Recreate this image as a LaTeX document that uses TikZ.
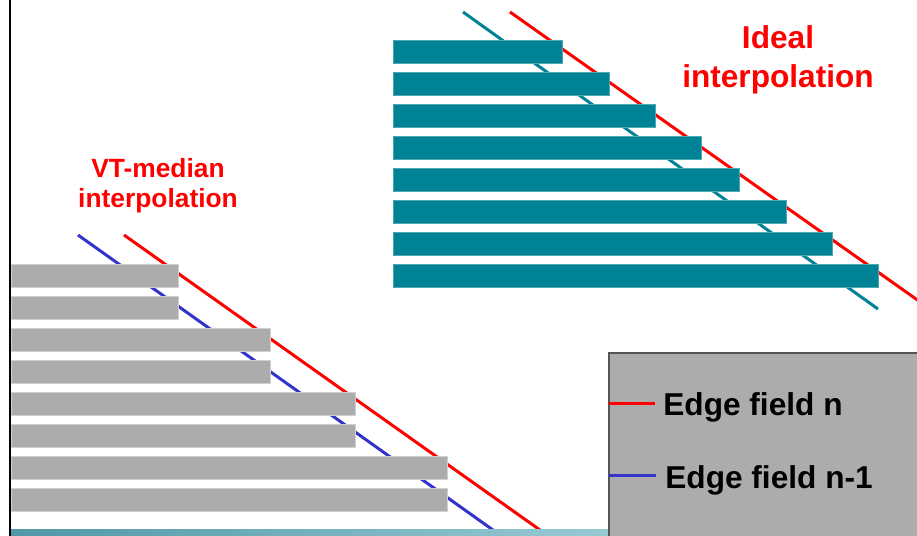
\documentclass[tikz,border=0pt]{standalone}
\usepackage{fontspec}
\setmainfont{Liberation Sans}
\usepackage{tikz}

\definecolor{barteal}{RGB}{0,131,150}
\definecolor{bargrey}{RGB}{172,172,172}
\definecolor{fieldblue}{RGB}{51,51,204}
\definecolor{legendedge}{RGB}{85,85,85}
\definecolor{stripleft}{RGB}{80,152,168}
\definecolor{stripright}{RGB}{152,201,211}

\begin{document}
\begin{tikzpicture}[
		x=0.02cm, y=-0.02cm,
		font=\bfseries,
		fieldbar/.style={
			rectangle,
			anchor=north west,
			inner sep=0pt,
			line width=0.3pt,
			minimum height=0.46cm,
			minimum width=#1*0.02cm
		},
		tealbar/.style={
			fieldbar=#1,
			fill=barteal,
			draw=barteal!70!white
		},
		greybar/.style={
			fieldbar=#1,
			fill=bargrey,
			draw=bargrey!55!white
		},
		fieldline/.style={
			line width=1.7pt
		},
		tag/.style={
			text=red,
			align=center,
			inner sep=0pt
		},
		legendtext/.style={
			anchor=base west,
			inner sep=0pt,
			font=\fontsize{18}{22}\selectfont\bfseries
		}
		]
		\useasboundingbox (0,0) rectangle (917,535);
		
		% the edges go first, the lines are hidden behind the bars
		\draw [fieldline, barteal] (463,12) -- (878,309);
		\draw [fieldline, red] (510,12) -- (950,323);
		\draw [fieldline, fieldblue] (78,235) -- (493,530);
		\draw [fieldline, red] (124,235) -- (540,530);
		
		% ideal interpolation
		\node [tealbar=169] (t1) at (393,40) {};
		\node [tealbar=216] (t2) at (393,72) {};
		\node [tealbar=262] (t3) at (393,104) {};
		\node [tealbar=308] (t4) at (393,136) {};
		\node [tealbar=346] (t5) at (393,168) {};
		\node [tealbar=393] (t6) at (393,200) {};
		\node [tealbar=439] (t7) at (393,232) {};
		\node [tealbar=485] (t8) at (393,264) {};
		
		% vt-median interpolation, lines come in pairs
		\node [greybar=167] (g1) at (11,264) {};
		\node [greybar=167] (g2) at (11,296) {};
		\node [greybar=259] (g3) at (11,328) {};
		\node [greybar=259] (g4) at (11,360) {};
		\node [greybar=344] (g5) at (11,392) {};
		\node [greybar=344] (g6) at (11,424) {};
		\node [greybar=436] (g7) at (11,456) {};
		\node [greybar=436] (g8) at (11,488) {};
		
		\node [tag, font=\fontsize{18}{22}\selectfont\bfseries] (ideal) at (778,60)
		{Ideal\\interpolation};
		\node [tag, font=\fontsize{15}{17}\selectfont\bfseries] (median) at (158,186)
		{VT-median\\interpolation};
		
		% frame
		\draw [line width=1.7pt] (10,-5) -- (10,540);
		\shade [left color=stripleft, right color=stripright] (11,529) rectangle (609,540);
		
		% legend
		\filldraw [fill=bargrey, draw=legendedge, line width=0.6pt] (609,353) rectangle (940,560);
		\coordinate (keyn) at (609,403);
		\coordinate (keym) at (609,475);
		\node [legendtext] (labn) at (663,415) {Edge field n};
		\node [legendtext] (labm) at (665,488) {Edge field n-1};
		\draw [fieldline, red, shorten >=0.16cm] (keyn) -- (keyn -| labn.west);
		\draw [fieldline, fieldblue, shorten >=0.18cm] (keym) -- (keym -| labm.west);
		
		\end{tikzpicture}
\end{document}
